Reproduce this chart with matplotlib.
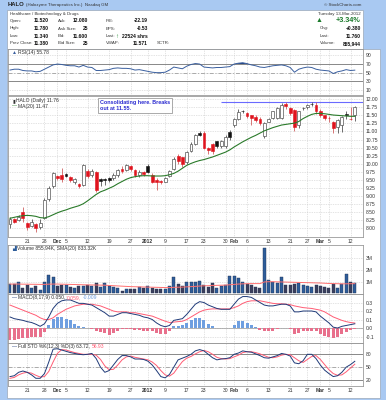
import numpy as np
import pandas as pd
import matplotlib
matplotlib.use("Agg")
import matplotlib.pyplot as plt
from matplotlib.patches import Rectangle

plt.rcParams['font.family'] = ['Liberation Sans', 'DejaVu Sans']

W, H = 386, 400

# trading days on the chart
holidays = ['2011-11-24', '2011-12-26', '2012-01-02', '2012-01-16', '2012-02-20']
days = pd.bdate_range('2011-11-15', '2012-03-13')
days = days[~days.isin(pd.to_datetime(holidays))]

opens = [8.12, 8.28, 8.25, 8.52, 8.15, 8.07, 8.12, 8.05, 8.32, 8.90, 9.30,
         9.62, 9.65, 9.67, 9.60, 9.42, 9.36, 9.35, 9.78, 9.65, 9.76,
         9.52, 9.52, 9.55, 9.55, 9.65, 9.85, 9.82, 9.92, 9.80, 9.66,
         9.75, 9.93, 9.65, 9.50, 9.48, 9.45, 9.62, 9.85, 10.25, 10.20,
         10.05, 10.38, 10.62, 10.95, 10.95, 10.50, 10.62, 10.70, 10.55, 10.55,
         10.98, 11.20, 11.38, 11.65, 11.57, 11.50, 11.45, 11.40, 10.85, 11.30,
         11.42, 11.42, 11.42, 11.85, 11.72, 11.67, 11.20, 11.72, 11.75, 11.86,
         11.82, 11.65, 11.50, 11.42, 11.30, 11.15, 11.20, 11.55, 11.40, 11.52]
highs = [8.35, 8.32, 8.40, 8.65, 8.18, 8.30, 8.15, 8.28, 8.95, 9.30, 9.75,
         9.66, 9.86, 9.70, 9.63, 9.55, 9.40, 10.00, 9.85, 9.85, 9.78,
         9.55, 9.55, 9.58, 9.70, 9.85, 9.92, 10.00, 9.96, 9.85, 9.80,
         9.78, 10.00, 9.70, 9.55, 9.50, 9.58, 9.82, 10.20, 10.30, 10.22,
         10.40, 10.68, 10.92, 11.00, 11.00, 10.52, 10.65, 10.72, 10.75, 10.90,
         11.05, 11.42, 11.70, 11.68, 11.60, 11.52, 11.50, 11.45, 11.30, 11.42,
         11.65, 11.75, 11.88, 11.91, 11.75, 11.70, 11.65, 11.75, 11.85, 11.91,
         11.91, 11.70, 11.52, 11.47, 11.32, 11.38, 11.48, 11.65, 11.75, 11.78]
lows = [8.02, 8.15, 8.22, 8.18, 7.95, 8.03, 7.88, 7.98, 8.30, 8.85, 9.25,
        9.50, 9.45, 9.58, 9.45, 9.38, 9.25, 9.30, 9.55, 9.60, 9.12,
        9.30, 9.35, 9.45, 9.50, 9.60, 9.70, 9.78, 9.78, 9.60, 9.60,
        9.62, 9.70, 9.40, 9.18, 9.38, 9.42, 9.58, 9.80, 10.00, 9.90,
        10.00, 10.35, 10.58, 10.85, 10.45, 10.30, 10.30, 10.50, 10.50, 10.50,
        10.75, 11.15, 11.35, 11.58, 11.42, 11.20, 11.30, 11.20, 10.80, 11.28,
        11.40, 11.40, 11.40, 11.70, 11.50, 11.00, 11.10, 11.68, 11.70, 11.80,
        11.55, 11.45, 11.35, 11.30, 10.95, 10.95, 10.98, 11.40, 11.35, 11.34]
closes = [8.28, 8.20, 8.36, 8.33, 8.03, 8.18, 8.00, 8.17, 8.88, 9.25, 9.70,
          9.55, 9.52, 9.62, 9.50, 9.52, 9.30, 9.96, 9.62, 9.78, 9.19,
          9.47, 9.49, 9.51, 9.65, 9.80, 9.77, 9.95, 9.84, 9.65, 9.75,
          9.68, 9.76, 9.45, 9.43, 9.42, 9.55, 9.78, 10.15, 10.08, 9.98,
          10.35, 10.62, 10.88, 10.90, 10.50, 10.42, 10.40, 10.55, 10.72, 10.82,
          10.82, 11.38, 11.60, 11.62, 11.47, 11.42, 11.36, 11.25, 11.25, 11.38,
          11.62, 11.72, 11.82, 11.78, 11.57, 11.15, 11.62, 11.73, 11.82, 11.84,
          11.62, 11.52, 11.42, 11.41, 11.10, 11.35, 11.45, 11.50, 11.38, 11.76]
ma20 = [8.31, 8.34, 8.37, 8.39, 8.40, 8.39, 8.37, 8.33, 8.32, 8.36, 8.42,
        8.48, 8.53, 8.57, 8.62, 8.66, 8.70, 8.76, 8.85, 8.95, 9.05,
        9.13, 9.18, 9.24, 9.30, 9.38, 9.45, 9.52, 9.57, 9.60, 9.62,
        9.63, 9.63, 9.62, 9.62, 9.62, 9.63, 9.66, 9.70, 9.77, 9.86,
        9.95, 10.01, 10.06, 10.10, 10.13, 10.17, 10.21, 10.26, 10.31, 10.36,
        10.43, 10.52, 10.60, 10.68, 10.75, 10.82, 10.88, 10.95, 11.02, 11.07,
        11.12, 11.16, 11.20, 11.22, 11.24, 11.26, 11.31, 11.40, 11.47, 11.53,
        11.56, 11.56, 11.55, 11.53, 11.51, 11.50, 11.49, 11.48, 11.47, 11.47]
volume = [0.80, 0.80, 0.94, 0.49, 0.71, 0.43, 0.66, 0.29, 0.94, 1.57, 1.43,
          0.63, 0.71, 0.71, 0.57, 0.43, 0.63, 0.66, 0.71, 0.66, 0.91,
          0.57, 0.86, 0.63, 0.57, 0.43, 0.23, 0.34, 0.40, 0.34, 0.57,
          0.43, 0.63, 0.43, 0.34, 0.34, 0.40, 0.63, 1.37, 0.80, 0.63,
          0.94, 1.00, 0.94, 1.06, 0.71, 0.51, 0.86, 0.43, 0.63, 0.71,
          1.49, 1.49, 1.29, 1.00, 0.80, 0.71, 0.51, 0.43, 3.85, 1.14,
          0.94, 0.86, 1.37, 0.71, 0.71, 0.80, 0.86, 0.71, 0.63, 0.57,
          0.71, 0.63, 0.57, 0.43, 0.77, 0.43, 0.80, 1.66, 0.94, 0.856]
vol_sma = [0.80, 0.80, 0.80, 0.79, 0.79, 0.78, 0.78, 0.77, 0.77, 0.79, 0.80,
           0.80, 0.79, 0.78, 0.77, 0.76, 0.75, 0.74, 0.73, 0.72, 0.72,
           0.71, 0.70, 0.68, 0.66, 0.64, 0.62, 0.60, 0.58, 0.57, 0.56,
           0.55, 0.54, 0.53, 0.52, 0.51, 0.50, 0.50, 0.52, 0.53, 0.54,
           0.56, 0.58, 0.60, 0.63, 0.65, 0.66, 0.68, 0.69, 0.70, 0.71,
           0.74, 0.77, 0.80, 0.82, 0.83, 0.84, 0.84, 0.84, 0.98, 1.00,
           1.00, 0.99, 0.98, 0.97, 0.96, 0.95, 0.94, 0.93, 0.92, 0.91,
           0.90, 0.89, 0.87, 0.85, 0.84, 0.83, 0.82, 0.82, 0.83, 0.833]
rsi = [56, 58, 58, 55, 54, 54, 52, 53, 58, 63, 68,
       70, 69, 67, 66, 66, 63, 67, 63, 62, 55,
       55, 56, 57, 60, 61, 60, 60, 59, 56, 57,
       55, 53, 51, 50, 50, 51, 56, 63, 61, 59,
       65, 69, 71, 70, 63, 62, 61, 62, 62, 63,
       64, 70, 72, 73, 71, 68, 66, 63, 62, 64,
       66, 67, 68, 66, 62, 51, 58, 61, 63, 62,
       58, 56, 55, 54, 48, 52, 54, 57, 55, 55.78]
macd = [0.13, 0.11, 0.10, 0.09, 0.075, 0.065, 0.045, 0.02, 0.05, 0.13, 0.23,
        0.29, 0.32, 0.33, 0.33, 0.31, 0.29, 0.29, 0.28, 0.27, 0.24,
        0.21, 0.18, 0.14, 0.14, 0.16, 0.18, 0.18, 0.17, 0.16, 0.15,
        0.13, 0.12, 0.10, 0.06, 0.03, 0.015, 0.03, 0.09, 0.10, 0.11,
        0.16, 0.22, 0.28, 0.31, 0.30, 0.27, 0.25, 0.23, 0.22, 0.22,
        0.22, 0.28, 0.34, 0.37, 0.37, 0.36, 0.33, 0.30, 0.27, 0.26,
        0.26, 0.27, 0.28, 0.28, 0.26, 0.19, 0.19, 0.20, 0.20, 0.20,
        0.19, 0.14, 0.10, 0.06, 0.01, 0.00, 0.02, 0.03, 0.04, 0.050]
signal = [0.27, 0.25, 0.23, 0.21, 0.19, 0.17, 0.15, 0.12, 0.10, 0.10, 0.12,
          0.16, 0.19, 0.22, 0.24, 0.26, 0.27, 0.28, 0.28, 0.28, 0.27,
          0.26, 0.24, 0.22, 0.20, 0.19, 0.19, 0.19, 0.18, 0.18, 0.17,
          0.16, 0.15, 0.14, 0.12, 0.10, 0.08, 0.065, 0.07, 0.075, 0.08,
          0.10, 0.13, 0.16, 0.19, 0.21, 0.22, 0.225, 0.225, 0.225, 0.225,
          0.225, 0.24, 0.26, 0.29, 0.31, 0.32, 0.32, 0.32, 0.31, 0.30,
          0.29, 0.285, 0.285, 0.28, 0.275, 0.26, 0.25, 0.24, 0.235, 0.23,
          0.22, 0.21, 0.19, 0.16, 0.13, 0.11, 0.09, 0.075, 0.065, 0.059]
sto_k = [28, 30, 38, 41, 38, 32, 24, 24, 35, 62, 92,
         93, 90, 87, 84, 82, 80, 79, 80, 82, 70,
         50, 38, 42, 55, 68, 77, 77, 74, 69, 69,
         68, 64, 55, 42, 28, 25, 33, 50, 67, 71,
         75, 80, 88, 91, 88, 80, 72, 67, 69, 70,
         72, 80, 83, 88, 86, 85, 81, 77, 72, 71,
         74, 77, 82, 80, 76, 60, 58, 65, 80, 80,
         70, 55, 43, 35, 28, 30, 38, 50, 56, 63.72]
sto_d = [24, 26, 32, 36, 38, 36, 31, 27, 28, 40, 62,
         82, 91, 90, 87, 84, 82, 80, 80, 80, 78,
         68, 53, 44, 45, 55, 67, 74, 76, 73, 71,
         69, 67, 62, 54, 42, 32, 29, 36, 50, 63,
         71, 75, 81, 86, 89, 86, 80, 73, 70, 69,
         70, 74, 78, 84, 86, 86, 84, 81, 77, 73,
         72, 74, 78, 80, 79, 72, 65, 61, 68, 75,
         77, 68, 56, 44, 35, 31, 32, 39, 48, 56.93]

tick_dates = ['2011-11-21', '2011-11-28', '2011-12-01', '2011-12-05', '2011-12-12',
              '2011-12-19', '2011-12-27', '2012-01-03', '2012-01-09', '2012-01-17',
              '2012-01-23', '2012-01-30', '2012-02-01', '2012-02-06', '2012-02-13',
              '2012-02-21', '2012-02-27', '2012-03-01', '2012-03-05', '2012-03-12']
tick_labels = ['21', '28', 'Dec', '5', '12', '19', '27', '2012', '9', '17',
               '23', '30', 'Feb', '6', '13', '21', '27', 'Mar', '5', '12']
bold_labels = {'Dec', '2012', 'Feb', 'Mar'}

x = np.arange(len(days))
o, hi, lo, c = map(np.array, (opens, highs, lows, closes))
tick_pos = [days.get_loc(pd.Timestamp(d)) for d in tick_dates]

BG = '#a9c9f2'
GRID = '#c8c8c8'
TXT = '#333333'
FS = 3.6     # axis / legend text
HS = 3.2     # header labels
HV = 3.6     # header values


def rect(x0, y0, x1, y1):
    return [x0 / W, 1 - y1 / H, (x1 - x0) / W, (y1 - y0) / H]


def fx(px):
    return px / W


def fy(py):
    return 1 - py / H


fig = plt.figure(figsize=(W / 100, H / 100), dpi=100, facecolor=BG)
fig.patches.append(Rectangle((fx(7), fy(398)), (380 - 7) / W, (398 - 49) / H,
                             transform=fig.transFigure, facecolor='white',
                             edgecolor='#9aa7b8', lw=0.5, zorder=-10))
fig.patches.append(Rectangle((fx(7), fy(49)), (363 - 7) / W, (49 - 10) / H,
                             transform=fig.transFigure, facecolor='white',
                             edgecolor='#9aa7b8', lw=0.5, zorder=-10))

# ---- header ----
fig.text(fx(8), fy(5), 'HALO', fontsize=4.2, weight='bold', color='#222222', va='center')
fig.text(fx(26.5), fy(5), '(Halozyme Therapeutics Inc.)  Nasdaq GM', fontsize=3.2, color='#333333', va='center')
fig.text(fx(361), fy(5), '© StockCharts.com', fontsize=3.2, color='#333333', va='center', ha='right')

rows = [13.5, 21, 28.5, 36, 43.5]
fig.text(fx(10), fy(rows[0]), 'Healthcare / Biotechnology & Drugs', fontsize=HS, color=TXT, va='center')
fig.text(fx(361), fy(rows[0]), 'Tuesday 13-Mar-2012', fontsize=HS, color=TXT, va='center', ha='right')
left_cols = [
    ('Open:', '11.520', 'Ask:', '12.080', 'P/E:', '-22.19'),
    ('High:', '11.780', 'Ask Size:', '25', 'EPS:', '-0.53'),
    ('Low:', '11.340', 'Bid:', '11.600', 'Last:', '22524 shrs'),
    ('Prev Close:', '11.380', 'Bid Size:', '25', 'VWAP:', '11.571'),
]
for r, (a, av, b, bv, cc, cv) in zip(rows[1:], left_cols):
    fig.text(fx(10), fy(r), a, fontsize=HS, color=TXT, va='center')
    fig.text(fx(49), fy(r), av, fontsize=HV, weight='bold', color='#111111', va='center', ha='right')
    fig.text(fx(58), fy(r), b, fontsize=HS, color=TXT, va='center')
    fig.text(fx(88), fy(r), bv, fontsize=HV, weight='bold', color='#111111', va='center', ha='right')
    fig.text(fx(106), fy(r), cc, fontsize=HS, color=TXT, va='center')
    fig.text(fx(148), fy(r), cv, fontsize=HV, weight='bold', color='#111111', va='center', ha='right')
fig.text(fx(118.5), fy(rows[3]), '↑', fontsize=HV + 0.6, weight='bold', color='#1a8a2a', va='center', ha='right')
fig.text(fx(157), fy(rows[4]), 'SCTR:', fontsize=HS, color=TXT, va='center')

fig.text(fx(319), fy(rows[1]), '▲', fontsize=HV + 1.4, color='#1a7a2a', va='center', ha='center')
fig.text(fx(361), fy(rows[1]), '+3.34%', fontsize=HV + 1.6, weight='bold', color='#1a7a2a', va='center', ha='right')
for r, lab, val in [(rows[2], 'Chg:', '+0.380'), (rows[3], 'Last:', '11.760'), (rows[4], 'Volume:', '855,944')]:
    fig.text(fx(320), fy(r), lab, fontsize=HS, color=TXT, va='center')
    fig.text(fx(361), fy(r), val, fontsize=HV, weight='bold', color='#111111', va='center', ha='right')

# ---- panels ----
ax_r = fig.add_axes(rect(8, 49, 363, 95))
ax_p = fig.add_axes(rect(8, 96, 363, 237))
ax_v = fig.add_axes(rect(8, 245, 363, 294))
ax_m = fig.add_axes(rect(8, 294, 363, 343))
ax_s = fig.add_axes(rect(8, 343, 363, 386))


def style(ax, yticks, ylabels, ylim, show_dates=False):
    ax.set_xlim(-0.46, 81.9)
    ax.set_ylim(*ylim)
    ax.set_facecolor('none')
    for sp in ax.spines.values():
        sp.set_color('#9a9a9a')
        sp.set_linewidth(0.6)
    ax.yaxis.tick_right()
    ax.set_yticks(yticks)
    ax.set_yticklabels(ylabels, fontsize=FS, color=TXT)
    ax.tick_params(axis='both', length=0, pad=2)
    ax.set_xticks(tick_pos)
    if show_dates:
        ax.set_xticklabels(tick_labels, fontsize=FS, color=TXT)
        for t in ax.get_xticklabels():
            if t.get_text() in bold_labels:
                t.set_fontweight('bold')
        ax.tick_params(axis='x', pad=1.5)
    else:
        ax.set_xticklabels([])
    for p in tick_pos:
        ax.axvline(p, color=GRID, lw=0.5, ls=(0, (1, 1.5)), zorder=0)
    for t in yticks:
        ax.axhline(t, color=GRID, lw=0.5, ls=(0, (1, 1.5)), zorder=0)


def chain_text(ax, x0, y0, parts, fs=FS):
    # draw coloured text pieces one after another
    r = fig.canvas.get_renderer()
    xx = x0
    for s, col in parts:
        t = ax.text(xx, y0, s, transform=ax.transAxes, fontsize=fs, color=col, va='top', zorder=7)
        bb = t.get_window_extent(renderer=r)
        xx += (bb.width + 1.2) / ax.bbox.width


# RSI
style(ax_r, [10, 30, 50, 70, 90], ['10', '30', '50', '70', '90'], (-2, 105))
rsi_a = np.array(rsi)
ax_r.axhline(70, color='#888888', lw=0.7)
ax_r.axhline(30, color='#888888', lw=0.7)
ax_r.axhline(50, color='#aaaaaa', lw=0.7, ls=(0, (4, 2, 1, 2)))
ax_r.fill_between(x, 70, rsi_a, where=rsi_a > 70, color='#1f3f7f', interpolate=True, lw=0)
ax_r.plot(x, rsi_a, color='#3a5f9f', lw=0.7)
chain_text(ax_r, 0.012, 0.98, [('▲', '#3a5f9f'), ('RSI(14) 55.78', TXT)])

# price
pt = np.arange(8.0, 12.01, 0.25)
style(ax_p, pt, ['%.2f' % v for v in pt], (7.73, 12.10), show_dates=True)
prev = np.r_[c[0], c[:-1]]
for i in x:
    down = c[i] < prev[i]
    col = '#e0141e' if down else '#111111'
    wick = '#d06060' if down else '#555555'
    ax_p.vlines(i, lo[i], hi[i], color=wick, lw=0.6, zorder=2)
    bottom = min(o[i], c[i])
    height = max(abs(c[i] - o[i]), 0.012)
    if c[i] < o[i]:
        ax_p.bar(i, height, 0.66, bottom, color=col, edgecolor=col, lw=0.4, zorder=3)
    else:
        ax_p.bar(i, height, 0.66, bottom, color='white', edgecolor='#e06060' if down else '#555555',
                 lw=0.5, zorder=3)
ax_p.plot(x, ma20, color='#2a7a2a', lw=0.8, zorder=4)
ax_p.hlines(11.91, 49, 81.9, color='#6a6aff', lw=0.8, zorder=1)
ax_p.text(20.8, 11.97, 'Consolidating here. Breaks\nout at 11.55.', fontsize=3.9, weight='bold',
          color='#2a2ad0', va='top', ha='left', linespacing=1.3,
          bbox=dict(boxstyle='square,pad=0.35', facecolor='white', edgecolor='#888888', lw=0.5), zorder=6)
chain_text(ax_p, 0.012, 0.985, [('▮', '#333333'), ('HALO (Daily) 11.76', TXT)])
chain_text(ax_p, 0.012, 0.945, [('—', '#2a7a2a'), ('MA(20) 11.47', TXT)])

# volume
style(ax_v, [1, 2, 3], ['1M', '2M', '3M'], (-0.05, 4.14))
vcol = ['#2e5d9a' if c[i] >= prev[i] else '#3c3f5c' for i in x]
ax_v.bar(x, volume, 0.7, color=vcol, edgecolor='#223355', lw=0.3, zorder=2)
ax_v.plot(x, vol_sma, color='#ff6f6f', lw=0.7, zorder=3)
chain_text(ax_v, 0.012, 0.98, [('▟', '#2e5d9a'), ('Volume 855.94K, SMA(20) 833.32K', TXT)])

# MACD
style(ax_m, [-0.1, 0.0, 0.1, 0.2, 0.3], ['-0.1', '0.0', '0.1', '0.2', '0.3'], (-0.176, 0.40))
m = np.array(macd)
s = np.array(signal)
hist = m - s
ax_m.bar(x, hist, 0.7, color=np.where(hist >= 0, '#6f9fe0', '#e8708c'), lw=0, zorder=2)
ax_m.axhline(0, color='#999999', lw=0.5, zorder=1)
ax_m.plot(x, s, color='#ff5c74', lw=0.7, zorder=3)
ax_m.plot(x, m, color='#1f3a78', lw=0.7, zorder=4)
chain_text(ax_m, 0.012, 0.98, [('—', '#1f3a78'), ('MACD(8,17,9) 0.050,', TXT),
                               ('0.059,', '#ff5c74'), ('-0.009', '#6f9fe0')])

# full stochastics
style(ax_s, [20, 50, 80], ['20', '50', '80'], (6, 106.4), show_dates=True)
ax_s.axhline(80, color='#888888', lw=0.7)
ax_s.axhline(20, color='#888888', lw=0.7)
ax_s.axhline(50, color='#aaaaaa', lw=0.7, ls=(0, (4, 2, 1, 2)))
ax_s.plot(x, sto_d, color='#ff5c74', lw=0.7)
ax_s.plot(x, sto_k, color='#1f3a78', lw=0.7)
chain_text(ax_s, 0.012, 0.97, [('—', '#1f3a78'), ('Full STO %K(12,3) %D(3) 63.72,', TXT),
                               ('56.93', '#ff5c74')])

fig.savefig('out.png', dpi=100, facecolor=BG)
